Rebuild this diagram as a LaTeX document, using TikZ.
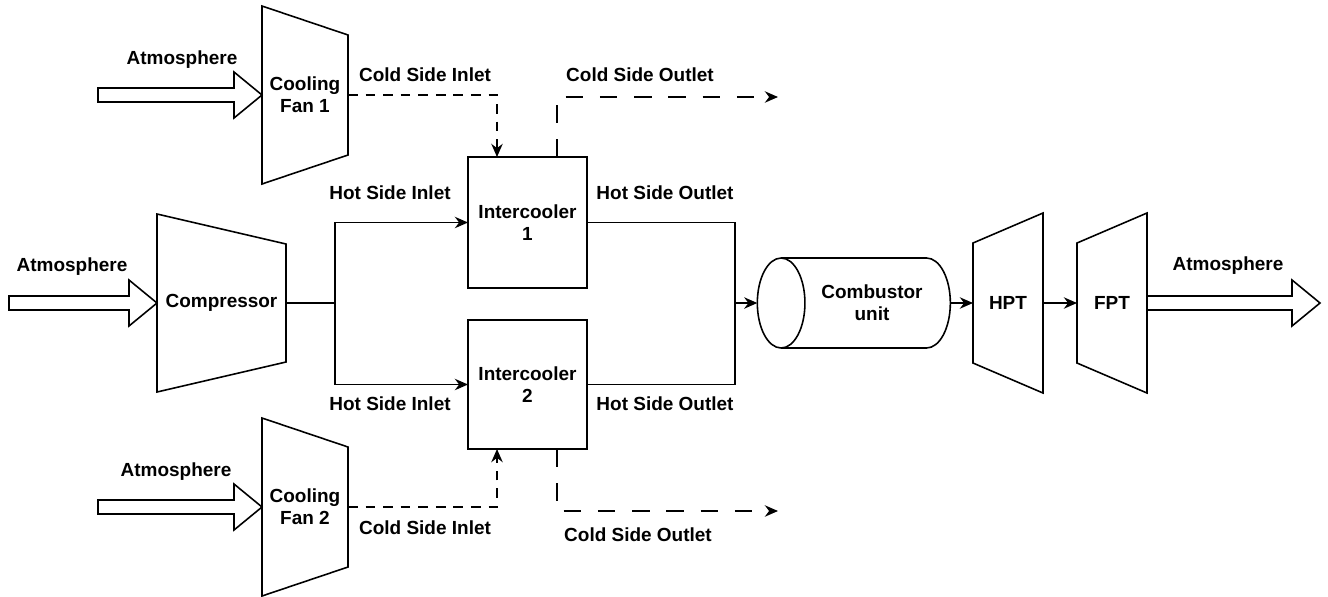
\documentclass[tikz,border=0pt]{standalone}
\usepackage{fontspec}
\setmainfont{Liberation Sans}
\usetikzlibrary{calc,arrows.meta,shapes.geometric}
\newcommand{\px}{.02cm}
% casing narrowing to the right (fans, compressor)
\newcommand{\narrowcasing}[2]{\draw (#1.north west) -- ($(#1.north east)+(0,#2)$) -- ($(#1.south east)+(0,-#2)$) -- (#1.south west) -- cycle;}
% casing widening to the right (turbines)
\newcommand{\widecasing}[2]{\draw ($(#1.north west)+(0,#2)$) -- (#1.north east) -- (#1.south east) -- ($(#1.south west)+(0,-#2)$) -- cycle;}
% hollow block arrow, left to right
\newcommand{\fatarrow}[2]{\draw ($(#1)+(0,-7)$) -- ($(#2)+(-28,-7)$) -- ($(#2)+(-28,-23)$) -- (#2) -- ($(#2)+(-28,23)$) -- ($(#2)+(-28,7)$) -- ($(#1)+(0,7)$) -- cycle;}

\begin{document}
\begin{tikzpicture}[x=\px,y=-\px,line width=.9pt,>={Stealth[length=7.5pt,width=6.5pt]},
    font=\fontsize{10.8}{12.5}\selectfont\bfseries,
    every node/.style={align=center,outer sep=0pt},
    cold in/.style={dash pattern=on 5.5pt off 4.5pt},
    cold out/.style={dash pattern=on 10pt off 9.5pt}]
      \useasboundingbox (0,0) rectangle (1328,596);
      % units
        \node (fan1) at (305,95) [minimum width=86*\px, minimum height=178*\px] {Cooling\\Fan 1};
        \narrowcasing{fan1}{29}
        \node (comp) at (221.5,303) [minimum width=129*\px, minimum height=178*\px] {Compressor};
        \narrowcasing{comp}{30}
        \node (fan2) at (305,507) [minimum width=86*\px, minimum height=178*\px] {Cooling\\Fan 2};
        \narrowcasing{fan2}{29}
        \node (ic1) at (527.5,222.5) [draw, minimum width=119*\px, minimum height=131*\px] {Intercooler\\1};
        \node (ic2) at (527.5,384.5) [draw, minimum width=119*\px, minimum height=129*\px] {Intercooler\\2};
        \node (comb) at (872,303) [cylinder, draw, shape border rotate=180, aspect=1, minimum height=193*\px, minimum width=90*\px] {Combustor\\unit};
        \node (hpt) at (1008,303) [minimum width=70*\px, minimum height=180*\px] {HPT};
        \widecasing{hpt}{30}
        \node (fpt) at (1112,303) [minimum width=70*\px, minimum height=180*\px] {FPT};
        \widecasing{fpt}{30}

      % free ends and junctions
        \coordinate (atm0) at (9,303);
        \coordinate (atm1) at (98,95);
        \coordinate (atm2) at (98,507);
        \coordinate (atm3) at (1320,303);
        \coordinate (cj) at (335,303);
        \coordinate (hj) at (735,303);
        \coordinate (out1) at (778,97);
        \coordinate (out2) at (778,511);

        \fatarrow{atm1}{fan1.west}
        \fatarrow{atm0}{comp.west}
        \fatarrow{atm2}{fan2.west}
        \fatarrow{fpt.east}{atm3}

        \draw (comp.east) -- (cj);
        \draw[->] (cj) |- (ic1.west);
        \draw[->] (cj) |- (ic2.west);
        \draw (ic1.east) -| (hj);
        \draw (ic2.east) -| (hj);
        \draw[->] (hj) -- (comb.west);
        \draw[->] (comb.east) -- (hpt.west);
        \draw[->] (hpt.east) -- (fpt.west);
        \draw[cold in,->] (fan1.east) -| ($(ic1.north west)+(29,0)$);
        \draw[cold in,->] (fan2.east) -| ($(ic2.south west)+(29,0)$);
        \draw[cold out,->] ($(ic1.north east)+(-30,0)$) |- (out1);
        \draw[cold out,->] ($(ic2.south east)+(-30,0)$) |- (out2);

      % labels
        \node (atmtxt0) at (72,267) {Atmosphere};
        \node (atmtxt1) at (182,60) {Atmosphere};
        \node (atmtxt2) at (176,472) {Atmosphere};
        \node (atmtxt3) at (1228,266) {Atmosphere};
        \node (cin1) at (425,75) {Cold Side Inlet};
        \node (cin2) at (425,528) {Cold Side Inlet};
        \node (hin1) at (390,193) {Hot Side Inlet};
        \node (hin2) at (390,404) {Hot Side Inlet};
        \node (hout1) at (665,193) {Hot Side Outlet};
        \node (hout2) at (665,404) {Hot Side Outlet};
        \node (cout1) at (640,75) {Cold Side Outlet};
        \node (cout2) at (638,535) {Cold Side Outlet};
\end{tikzpicture}
\end{document}
